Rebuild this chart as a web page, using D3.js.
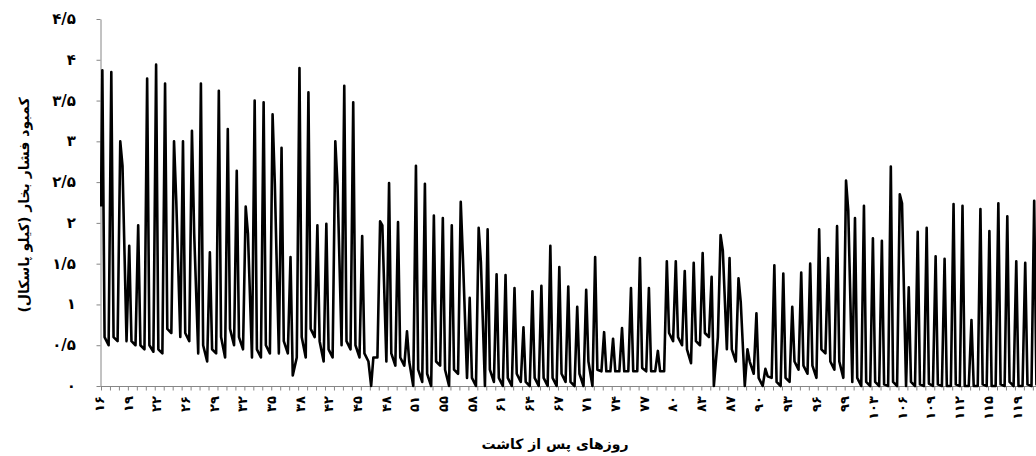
<html>
<head>
    <meta charset="utf-8">
    <script src="https://d3js.org/d3.v7.min.js"></script>
    <style>
        body { margin: 0; background: #fff; }
        svg text {
            font-family: "DejaVu Sans", sans-serif;
            font-weight: bold;
            fill: #000;
        }
        .axis path, .axis line { stroke: #868686; }
    </style>
</head>
<body>
<script>
    // days after planting (first day of the record)
    var firstDay = 16;
    var startVpd = 2.2;

    // daily maximum (midday peak), kPa
    var peakVpd = [3.87, 3.85, 3.00, 1.72, 1.97, 3.77, 3.94, 3.71, 3.00, 3.00,
        3.13, 3.71, 1.64, 3.62, 3.15, 2.64, 2.20, 3.50, 3.48, 3.33,
        2.92, 1.58, 3.90, 3.60, 1.97, 1.99, 3.00, 3.68, 3.48, 1.84,
        0.00, 2.02, 2.49, 2.01, 0.67, 2.70, 2.48, 2.09, 2.06, 1.97,
        2.26, 1.08, 1.94, 1.92, 1.37, 1.36, 1.20, 0.72, 1.16, 1.23,
        1.72, 1.46, 1.22, 0.97, 1.18, 1.58, 0.66, 0.58, 0.71, 1.20,
        1.57, 1.20, 0.43, 1.53, 1.53, 1.41, 1.51, 1.63, 1.34, 1.85,
        1.57, 1.32, 0.45, 0.89, 0.21, 1.48, 1.38, 0.97, 1.39, 1.50,
        1.92, 1.57, 1.96, 2.52, 2.06, 2.21, 1.81, 1.78, 2.69, 2.35,
        1.21, 1.89, 1.94, 1.59, 1.56, 2.23, 2.21, 0.81, 2.17, 1.90,
        2.24, 2.08, 1.53, 1.51, 2.27];

    // afternoon value just after the peak, kPa
    var eveVpd = [0.60, 0.60, 2.70, 0.55, 0.50, 0.50, 0.45, 0.70, 2.27, 0.65,
        1.87, 0.50, 0.45, 0.60, 0.70, 0.60, 1.87, 0.45, 0.50, 2.48,
        0.55, 0.13, 0.60, 0.70, 0.55, 0.45, 2.46, 0.55, 0.50, 0.40,
        0.35, 1.97, 0.40, 0.35, 0.30, 0.20, 0.15, 0.30, 0.20, 0.20,
        1.55, 0.10, 1.52, 0.20, 0.10, 0.10, 0.15, 0.05, 0.10, 0.10,
        0.10, 0.15, 0.05, 0.15, 0.30, 0.20, 0.18, 0.18, 0.18, 0.18,
        0.22, 0.18, 0.18, 0.65, 0.60, 0.45, 0.55, 0.65, 0.00, 1.66,
        0.45, 1.03, 0.30, 0.10, 0.12, 0.05, 0.10, 0.30, 0.25, 0.25,
        0.45, 0.30, 0.30, 2.15, 0.10, 0.05, 0.05, 0.02, 0.05, 2.24,
        0.05, 0.02, 0.03, 0.02, 0.00, 0.02, 0.00, 0.00, 0.02, 0.00,
        0.02, 0.05, 0.00, 0.02, 0.02];

    // night / pre-dawn minimum, kPa
    var dawnVpd = [0.50, 0.55, 0.55, 0.50, 0.45, 0.42, 0.40, 0.65, 0.60, 0.55,
        0.40, 0.30, 0.40, 0.35, 0.50, 0.45, 0.35, 0.35, 0.40, 0.40,
        0.40, 0.35, 0.35, 0.60, 0.30, 0.35, 0.50, 0.45, 0.35, 0.30,
        0.35, 0.30, 0.25, 0.25, 0.00, 0.05, 0.00, 0.25, 0.00, 0.15,
        0.10, 0.00, 0.00, 0.05, 0.00, 0.00, 0.05, 0.00, 0.00, 0.00,
        0.00, 0.05, 0.00, 0.00, 0.00, 0.18, 0.18, 0.18, 0.18, 0.18,
        0.18, 0.18, 0.18, 0.55, 0.50, 0.28, 0.50, 0.60, 0.60, 0.45,
        0.30, 0.00, 0.15, 0.00, 0.10, 0.00, 0.05, 0.20, 0.15, 0.10,
        0.40, 0.20, 0.10, 0.05, 0.00, 0.00, 0.00, 0.00, 0.00, 0.00,
        0.00, 0.00, 0.00, 0.00, 0.00, 0.00, 0.00, 0.00, 0.00, 0.00,
        0.00, 0.00, 0.00, 0.00, 0.00];

    var dayLabels = [16, 19, 22, 26, 29, 32, 35, 38, 42, 45, 48, 51, 55, 58, 61, 64, 67,
        71, 74, 77, 80, 83, 87, 90, 93, 96, 99, 103, 106, 109, 112, 115, 119];
    var labelStep = 3.2;
    var yTicks = [0, 0.5, 1, 1.5, 2, 2.5, 3, 3.5, 4, 4.5];

    var width = 1036, height = 456;
    var plotLeft = 101, plotRight = 1036, plotTop = 19, plotBottom = 386;
    var pxPerDay = 8.96;

    function fa(s) {
        return String(s).replace(/[0-9]/g, function (c) {
            return String.fromCharCode(0x06F0 + (+c));
        }).replace(".", "/");
    }

    var x = d3.scaleLinear()
        .domain([firstDay, firstDay + (plotRight - plotLeft) / pxPerDay])
        .range([plotLeft, plotRight]);
    var y = d3.scaleLinear().domain([0, 4.5]).range([plotBottom, plotTop]);

    var svg = d3.select("body").append("svg")
        .attr("width", width)
        .attr("height", height);

    svg.append("defs").append("clipPath").attr("id", "plot")
        .append("rect").attr("x", plotLeft - 1).attr("y", 0)
        .attr("width", plotRight - plotLeft + 2).attr("height", plotBottom + 2);

    // build the series: peak, afternoon, dawn for each day
    var points = [{ t: firstDay, v: startVpd }];
    peakVpd.forEach(function (p, i) {
        var d = firstDay + i;
        points.push({ t: d + 0.15, v: p });
        points.push({ t: d + 0.4, v: eveVpd[i] });
        points.push({ t: d + 0.85, v: dawnVpd[i] });
    });

    // x axis: tick every day, labels every 3.2 days
    var xAxis = svg.append("g").attr("class", "axis")
        .attr("transform", "translate(0," + (plotBottom + 0.5) + ")")
        .call(d3.axisBottom(x)
            .tickValues(d3.range(firstDay, 121))
            .tickSize(4)
            .tickSizeOuter(0)
            .tickFormat(""));
    xAxis.select(".domain").attr("d", "M" + (plotLeft - 0.5) + ",0H" + plotRight);

    svg.append("g").selectAll("text")
        .data(dayLabels)
        .enter()
        .append("text")
        .attr("transform", function (d, i) {
            return "translate(" + (x(firstDay + i * labelStep) + 3) + "," + (plotBottom + 10) + ") rotate(-90)";
        })
        .attr("text-anchor", "end")
        .style("font-size", "13px")
        .text(function (d) { return fa(d); });

    // y axis
    var yAxis = svg.append("g").attr("class", "axis")
        .attr("transform", "translate(" + (plotLeft - 0.5) + ",0)")
        .call(d3.axisLeft(y).tickValues(yTicks).tickSize(4).tickSizeOuter(0).tickFormat(""));

    svg.append("g").selectAll("text")
        .data(yTicks)
        .enter()
        .append("text")
        .attr("x", 76)
        .attr("y", function (d) { return y(d) + 5; })
        .attr("text-anchor", "end")
        .style("font-size", "15px")
        .text(function (d) { return fa(d); });

    // series
    svg.append("path")
        .datum(points)
        .attr("clip-path", "url(#plot)")
        .attr("fill", "none")
        .attr("stroke", "#000")
        .attr("stroke-width", 2.6)
        .attr("stroke-linejoin", "round")
        .attr("d", d3.line()
            .x(function (d) { return x(d.t); })
            .y(function (d) { return y(d.v); }));

    // titles
    svg.append("text")
        .attr("transform", "translate(29,205) rotate(-90)")
        .attr("text-anchor", "middle")
        .attr("direction", "rtl")
        .style("font-size", "14px")
        .text("کمبود فشار بخار (کیلو پاسکال)");

    svg.append("text")
        .attr("x", 555)
        .attr("y", 449)
        .attr("text-anchor", "middle")
        .attr("direction", "rtl")
        .style("font-size", "14px")
        .text("روزهای پس از کاشت");
</script>
</body>
</html>
